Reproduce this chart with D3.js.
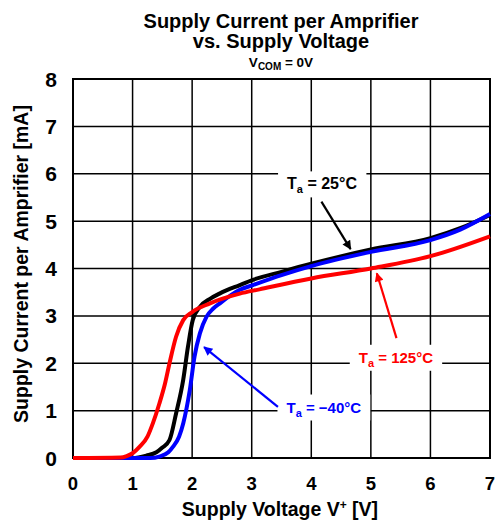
<!DOCTYPE html>
<html>
<head>
<meta charset="utf-8">
<title>Supply Current per Amprifier vs. Supply Voltage</title>
<script src="https://d3js.org/d3.v7.min.js"></script>
<style>
  body { margin: 0; background: #fff; }
  svg text { font-family: "Liberation Sans", Arial, sans-serif; font-weight: bold; }
</style>
</head>
<body>
<div id="chart"></div>
<script>
// curves: supply voltage [V] -> current [mA]
var vBlack = [0, 1.0, 1.23, 1.4, 1.5, 1.62, 1.73, 1.85, 1.93, 2.01, 2.13, 2.3, 2.46, 2.8, 3.02, 3.5, 4.0, 5.0, 6.0, 6.5, 7.0]
var iBlack = [0, 0, 0.05, 0.12, 0.22, 0.38, 0.94, 1.65, 2.35, 2.91, 3.19, 3.36, 3.47, 3.65, 3.76, 3.93, 4.1, 4.4, 4.64, 4.85, 5.13]

var vBlue = [0, 1.3, 1.45, 1.6, 1.68, 1.78, 1.85, 1.96, 2.04, 2.13, 2.24, 2.35, 2.46, 2.8, 3.02, 3.5, 4.0, 5.0, 6.0, 6.5, 7.0]
var iBlue = [0, 0, 0.03, 0.12, 0.24, 0.45, 0.73, 1.43, 2.14, 2.63, 2.98, 3.15, 3.26, 3.55, 3.65, 3.86, 4.05, 4.35, 4.6, 4.82, 5.15]

var vRed = [0, 0.8, 0.9, 1.0, 1.12, 1.25, 1.34, 1.45, 1.55, 1.62, 1.73, 1.85, 2.0, 2.29, 2.8, 3.13, 4.0, 5.0, 6.0, 7.0]
var iRed = [0, 0.01, 0.04, 0.1, 0.24, 0.45, 0.73, 1.15, 1.6, 2.0, 2.56, 2.91, 3.08, 3.26, 3.47, 3.56, 3.79, 4.0, 4.26, 4.68]

var xTicks = [0, 1, 2, 3, 4, 5, 6, 7]
var yTicks = [0, 1, 2, 3, 4, 5, 6, 7, 8]

// label text, label anchor (V, mA), arrow tail and tip (V, mA)
var labelTemps = ["25°C", "125°C", "\u221240°C"]
var labelColors = ["#000", "#ff0000", "#0000ff"]
var labelAt = [[4.18, 5.67], [5.42, 2.01], [4.21, 0.96]]
var arrowFrom = [[4.17, 5.41], [5.43, 2.53], [3.44, 1.08]]
var arrowTo = [[4.66, 4.41], [5.10, 3.90], [2.20, 2.34]]

var W = 496, H = 524
var margin = {top: 79, right: 6, bottom: 66, left: 73}

var svg = d3.select("#chart").append("svg")
  .attr("width", W)
  .attr("height", H)

var x = d3.scaleLinear().domain([0, 7]).range([margin.left, W - margin.right])
var y = d3.scaleLinear().domain([0, 8]).range([H - margin.bottom, margin.top])

// title
var title = svg.append("g").attr("text-anchor", "middle")
title.append("text").attr("x", 281).attr("y", 28).style("font-size", "20px")
  .text("Supply Current per Amprifier")
title.append("text").attr("x", 281).attr("y", 48).style("font-size", "20px")
  .text("vs. Supply Voltage")
var sub = title.append("text").attr("x", 281).attr("y", 67).style("font-size", "13.5px")
sub.append("tspan").text("V")
sub.append("tspan").attr("dy", 3).style("font-size", "10px").text("COM")
sub.append("tspan").attr("dy", -3).text(" = 0V")

// grid
svg.append("g").selectAll("line").data(xTicks.slice(1, -1)).join("line")
  .attr("x1", d => x(d)).attr("x2", d => x(d))
  .attr("y1", y(0)).attr("y2", y(8))
  .attr("stroke", "#000").attr("stroke-width", 1.5)
svg.append("g").selectAll("line").data(yTicks.slice(1, -1)).join("line")
  .attr("x1", x(0)).attr("x2", x(7))
  .attr("y1", d => y(d)).attr("y2", d => y(d))
  .attr("stroke", "#000").attr("stroke-width", 1.5)

svg.append("rect")
  .attr("x", x(0)).attr("y", y(8))
  .attr("width", x(7) - x(0)).attr("height", y(0) - y(8))
  .attr("fill", "none").attr("stroke", "#000").attr("stroke-width", 2)

// tick labels
svg.append("g").selectAll("text").data(xTicks).join("text")
  .attr("x", d => x(d)).attr("y", 490)
  .attr("text-anchor", "middle")
  .style("font-size", "18.5px")
  .text(d => d)
svg.append("g").selectAll("text").data(yTicks).join("text")
  .attr("x", 57).attr("y", d => y(d)).attr("dy", "0.36em")
  .attr("text-anchor", "end")
  .style("font-size", "21px")
  .text(d => d)

// axis titles
var xl = svg.append("text").attr("x", 280).attr("y", 516)
  .attr("text-anchor", "middle").style("font-size", "19.5px")
xl.append("tspan").text("Supply Voltage V")
xl.append("tspan").attr("dy", -7).style("font-size", "12px").text("+")
xl.append("tspan").attr("dy", 7).text(" [V]")

svg.append("text")
  .attr("transform", "translate(28,264) rotate(-90)")
  .attr("text-anchor", "middle").style("font-size", "19.5px")
  .text("Supply Current per Amprifier [mA]")

// label boxes and labels
var labels = svg.append("g")
labelTemps.forEach(function(t, k) {
  var g = labels.append("g")
  var txt = g.append("text")
    .attr("x", x(labelAt[k][0])).attr("y", y(labelAt[k][1]))
    .attr("text-anchor", "middle")
    .attr("fill", labelColors[k])
    .style("font-size", k == 0 ? "16px" : "15px")
  txt.append("tspan").text("T")
  txt.append("tspan").attr("dy", 4).style("font-size", "11px").text("a")
  txt.append("tspan").attr("dy", -4).text(" = " + t)
  var bb = txt.node().getBBox()
  g.insert("rect", "text")
    .attr("x", bb.x - 9).attr("y", bb.y - 4)
    .attr("width", bb.width + 18).attr("height", bb.height + 6)
    .attr("fill", "#fff")
})

// curves
var line = d3.line()
  .x(d => x(d[0]))
  .y(d => y(d[1]))
  .curve(d3.curveMonotoneX)

var series = [
  {v: vBlack, i: iBlack, color: "#000"},
  {v: vBlue, i: iBlue, color: "#0000ff"},
  {v: vRed, i: iRed, color: "#ff0000"}
]
series.forEach(function(s) {
  svg.append("path")
    .datum(d3.zip(s.v, s.i))
    .attr("d", line)
    .attr("fill", "none")
    .attr("stroke", s.color)
    .attr("stroke-width", 4)
    .attr("stroke-linejoin", "round")
})

// arrows
var defs = svg.append("defs")
labelColors.forEach(function(c, k) {
  defs.append("marker")
    .attr("id", "arrow" + k)
    .attr("viewBox", "0 0 10 10")
    .attr("refX", 9).attr("refY", 5)
    .attr("markerUnits", "userSpaceOnUse")
    .attr("markerWidth", 11).attr("markerHeight", 9)
    .attr("orient", "auto")
    .append("path")
    .attr("d", "M0,0L10,5L0,10Z")
    .attr("fill", c)
})
svg.append("g").selectAll("line").data(labelColors).join("line")
  .attr("x1", (d, k) => x(arrowFrom[k][0])).attr("y1", (d, k) => y(arrowFrom[k][1]))
  .attr("x2", (d, k) => x(arrowTo[k][0])).attr("y2", (d, k) => y(arrowTo[k][1]))
  .attr("stroke", d => d)
  .attr("stroke-width", 2.2)
  .attr("marker-end", (d, k) => "url(#arrow" + k + ")")
</script>
</body>
</html>
